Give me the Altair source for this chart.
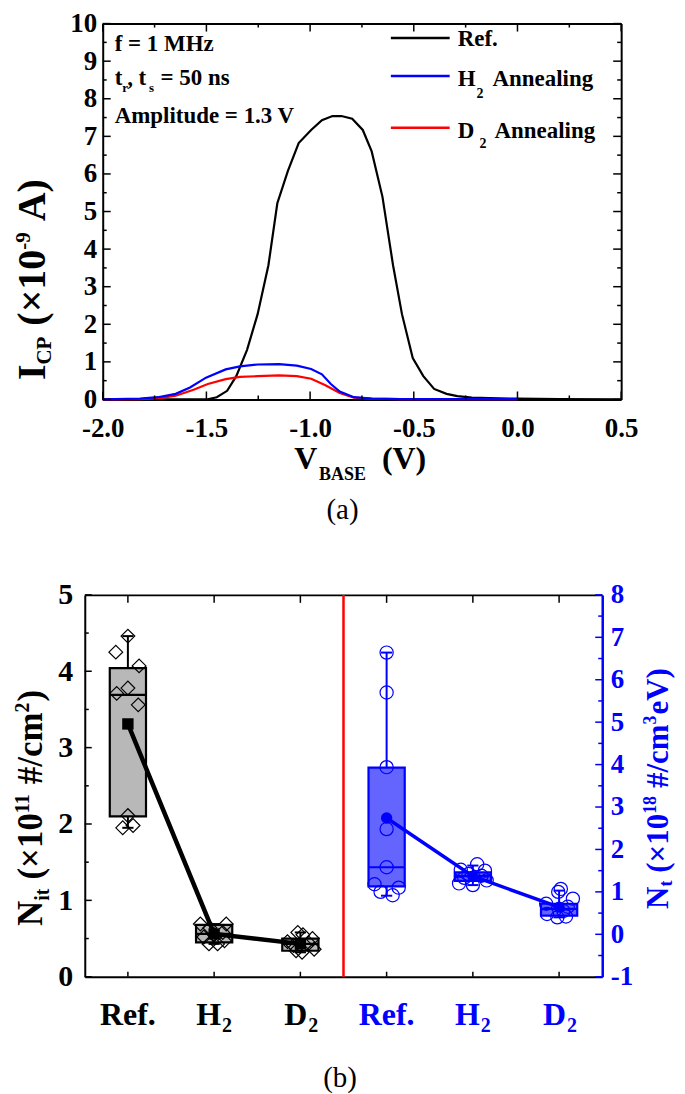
import altair as alt
import pandas as pd

FONT = "Liberation Serif"
BLUE = "#0000ff"
RED = "#ff0000"
BLACK = "#000000"

# ---------------- (a) charge-pumping current curves ----------------
ref_v = [-2.0, -1.8, -1.6, -1.50, -1.45, -1.40, -1.356, -1.304, -1.253, -1.201, -1.158,
         -1.107, -1.055, -0.995, -0.943, -0.892, -0.849, -0.797, -0.746, -0.703, -0.651,
         -0.600, -0.557, -0.505, -0.454, -0.402, -0.342, -0.29, -0.22, -0.136, 0.0, 0.2, 0.5]
ref_i = [0, 0, 0, 0.0, 0.06, 0.23, 0.62, 1.32, 2.27, 3.57, 5.22,
         6.08, 6.82, 7.17, 7.43, 7.54, 7.54, 7.47, 7.17, 6.60, 5.39,
         3.57, 2.27, 1.10, 0.62, 0.28, 0.15, 0.09, 0.05, 0.035, 0.02, 0.01, 0.0]
h2_v = [-2.0, -1.82, -1.734, -1.648, -1.579, -1.502, -1.407, -1.338, -1.253, -1.15,
        -1.064, -0.995, -0.943, -0.90, -0.857, -0.789, -0.703, -0.565, 0.0]
h2_i = [0, 0.02, 0.06, 0.15, 0.32, 0.58, 0.80, 0.88, 0.93, 0.94,
        0.90, 0.81, 0.67, 0.41, 0.21, 0.06, 0.02, 0.01, 0.01]
d2_v = [-2.0, -1.82, -1.717, -1.648, -1.562, -1.493, -1.407, -1.338, -1.253, -1.15,
        -1.064, -0.995, -0.926, -0.857, -0.789, -0.703, -0.565, 0.0]
d2_i = [0, 0.01, 0.04, 0.10, 0.26, 0.41, 0.54, 0.60, 0.62, 0.64,
        0.62, 0.55, 0.38, 0.17, 0.05, 0.02, 0.01, 0.01]
series = ["Ref.", "H2 Annealing", "D2 Annealing"]

a_x_major = [-2.0, -1.5, -1.0, -0.5, 0.0, 0.5]
a_x_minor = [-1.75, -1.25, -0.75, -0.25, 0.25]
a_y_major = [0, 1, 2, 3, 4, 5, 6, 7, 8, 9, 10]
a_y_minor = [0.5, 1.5, 2.5, 3.5, 4.5, 5.5, 6.5, 7.5, 8.5, 9.5]

# ---------------- (b) box plots ----------------
groups = ["Ref.", "H2", "D2"]
nit_q1 = [2.10, 0.45, 0.34]
nit_q3 = [4.04, 0.68, 0.50]
nit_med = [3.69, 0.56, 0.43]
nit_wlo = [1.95, 0.43, 0.32]
nit_whi = [4.46, 0.69, 0.58]
nit_mean = [3.31, 0.56, 0.43]
nit_pts = [[4.46, 4.25, 4.07, 3.78, 3.71, 3.56, 2.11, 1.95, 1.98],
           [0.69, 0.69, 0.64, 0.58, 0.55, 0.52, 0.47, 0.43, 0.43],
           [0.58, 0.55, 0.50, 0.46, 0.44, 0.41, 0.36, 0.34, 0.32]]
nit_jit = [[0.0, -0.14, 0.13, 0.0, -0.13, 0.12, 0.0, -0.06, 0.06],
           [-0.16, 0.14, -0.05, 0.10, 0.0, -0.12, 0.12, -0.06, 0.04],
           [-0.03, 0.03, 0.14, -0.15, 0.10, -0.08, 0.16, -0.05, 0.02]]
nt_q1 = [1.13, 1.26, 0.44]
nt_q3 = [3.93, 1.46, 0.72]
nt_med = [1.58, 1.37, 0.60]
nt_wlo = [0.91, 1.16, 0.40]
nt_whi = [6.64, 1.62, 1.03]
nt_mean = [2.74, 1.37, 0.64]
nt_pts = [[6.64, 5.70, 3.94, 2.48, 1.58, 1.18, 1.10, 1.00, 0.92],
          [1.65, 1.52, 1.50, 1.42, 1.38, 1.33, 1.27, 1.20, 1.16],
          [1.07, 1.00, 0.84, 0.72, 0.65, 0.55, 0.48, 0.42, 0.40]]
nt_jit = [[0.0, 0.0, 0.0, 0.0, 0.0, -0.14, 0.14, -0.07, 0.07],
          [0.05, -0.14, 0.14, -0.05, 0.10, -0.10, 0.16, -0.16, 0.0],
          [0.02, -0.01, 0.16, -0.15, 0.10, 0.05, -0.14, 0.08, -0.02]]
x_labels_main = ["Ref.", "H", "D", "Ref.", "H", "D"]
x_labels_sub = ["", "2", "2", "", "2", "2"]
divider_at = [3.0]
b_l_major = [0, 1, 2, 3, 4, 5]
b_l_minor = [0.5, 1.5, 2.5, 3.5, 4.5]
b_r_major = [-1, 0, 1, 2, 3, 4, 5, 6, 7, 8]
b_r_minor = [-0.5, 0.5, 1.5, 2.5, 3.5, 4.5, 5.5, 6.5, 7.5]

# ---------------- helpers ----------------
ONE = pd.DataFrame({"k": [0]})
ADV = {' ': .25, '(': .333, ')': .333, '×': .57, '-': .333, 'A': .722, 'B': .667, 'C': .722,
       'D': .722, 'E': .667, 'H': .778, 'I': .389, 'M': .944, 'N': .722, 'P': .611, 'R': .722,
       'S': .556, 'V': .722, 'a': .5, 'c': .444, 'd': .556, 'e': .444, 'f': .333, 'g': .5,
       'i': .278, 'l': .278, 'm': .833, 'n': .556, 'p': .556, 'r': .444, 's': .389, 't': .333,
       'u': .556, 'z': .444, '#': .5, '/': .278, '=': .57, ',': .25, '.': .25}


def tw(s, size):
    return sum(ADV.get(c, 0.5) for c in s) * size


def txt(s, x, y, size, color=BLACK, angle=None, weight="bold", align="left"):
    kw = dict(text=s, font=FONT, fontSize=size, fontWeight=weight, color=color,
              align=align, baseline="alphabetic")
    if angle is not None:
        kw["angle"] = angle
    return alt.Chart(ONE).mark_text(**kw).encode(x=alt.value(x), y=alt.value(y))


def vtitle(segs, x0, y0, color=BLACK):
    """Rotated (reading upward) title built from segments (text, size, baseline shift, gap)."""
    out, y = [], y0
    for s, size, dx, gap in segs:
        y -= gap
        out.append(txt(s, x0 + dx, y, size, color, angle=270))
        y -= tw(s, size)
    return out


def vt(vals, scale, y0, y1, axis=None, color=BLACK, w=1.5):
    return alt.Chart(pd.DataFrame({"v": vals})).mark_rule(color=color, strokeWidth=w).encode(
        x=alt.X("v:Q", scale=scale, axis=axis), y=alt.value(y0), y2=alt.value(y1))


def ht(vals, scale, x0, x1, axis=None, color=BLACK, w=1.5):
    return alt.Chart(pd.DataFrame({"v": vals})).mark_rule(color=color, strokeWidth=w).encode(
        y=alt.Y("v:Q", scale=scale, axis=axis), x=alt.value(x0), x2=alt.value(x1))


# ================= panel (a) =================
W1, H1 = 538, 377
XS1 = alt.Scale(domain=[-2.0, 0.5], range=[18, W1], nice=False, zero=False)
YS1 = alt.Scale(domain=[0, 10], nice=False, zero=False)

AX_A_BOTTOM = alt.Axis(orient="bottom", values=a_x_major, labelFontSize=27, labelPadding=16,
                       labelExpr="datum.value < 0 ? '-' + format(-datum.value, '.1f') : format(datum.value, '.1f')",
                       ticks=False, domain=True, domainColor=BLACK, domainWidth=2, grid=False,
                       title=None, labelFlush=False, labelOverlap=False)
AX_A_LEFT = alt.Axis(orient="left", offset=-18, values=a_y_major, format="d", labelFontSize=27,
                     labelPadding=6, ticks=False, domain=True, domainColor=BLACK, domainWidth=2,
                     grid=False, title=None, labelOverlap=False)
AX_A_TOP = alt.Axis(orient="top", labels=False, ticks=False, domain=True, domainColor=BLACK,
                    domainWidth=2, grid=False, title=None)
AX_A_RIGHT = alt.Axis(orient="right", labels=False, ticks=False, domain=True, domainColor=BLACK,
                      domainWidth=2, grid=False, title=None)

curve_df = pd.DataFrame({
    "V": ref_v + h2_v + d2_v,
    "I": ref_i + h2_i + d2_i,
    "s": [series[0]] * len(ref_v) + [series[1]] * len(h2_v) + [series[2]] * len(d2_v),
    "o": list(range(len(ref_v))) + list(range(len(h2_v))) + list(range(len(d2_v))),
})


def curve(name, color, axes=False):
    return alt.Chart(curve_df).transform_filter(alt.datum.s == name).mark_line(
        color=color, strokeWidth=2.2).encode(
        x=alt.X("V:Q", scale=XS1, axis=AX_A_BOTTOM if axes else None),
        y=alt.Y("I:Q", scale=YS1, axis=AX_A_LEFT if axes else None),
        order="o:Q")


top_layers = [
    curve(series[0], BLACK, axes=True),
    curve(series[2], RED),
    curve(series[1], BLUE),
    vt(a_x_major, XS1, H1, H1 - 8), vt(a_x_minor, XS1, H1, H1 - 4),
    vt(a_x_major, XS1, 0, 8, axis=AX_A_TOP), vt(a_x_minor, XS1, 0, 4),
    ht(a_y_major, YS1, 18, 26), ht(a_y_minor, YS1, 18, 22),
    ht(a_y_major, YS1, W1, W1 - 8, axis=AX_A_RIGHT), ht(a_y_minor, YS1, W1, W1 - 4),
]
# legend swatches
for yy, col in [(14.5, BLACK), (52.5, BLUE), (104.5, RED)]:
    top_layers.append(alt.Chart(ONE).mark_rule(color=col, strokeWidth=2.5).encode(
        x=alt.value(307), x2=alt.value(366), y=alt.value(yy)))
top_layers += [
    txt("Ref.", 374, 22.5, 23),
    txt("H", 374, 62.5, 23), txt("2", 393, 74.5, 14), txt("Annealing", 409, 62.5, 23),
    txt("D", 374, 114.5, 23), txt("2", 396, 124.5, 14), txt("Annealing", 411, 114.5, 23),
    # measurement conditions
    txt("f = 1 MHz", 30, 27.5, 23),
    txt("t", 30, 61.5, 23), txt("r", 37.5, 68.5, 13), txt(", t", 42.5, 61.5, 23),
    txt("s", 64.5, 68.5, 13), txt("= 50 ns", 76, 61.5, 23),
    txt("Amplitude = 1.3 V", 30, 99.5, 23),
    # x title
    txt("V", 210, 446.5, 32), txt("BASE", 235, 457.5, 18), txt("(V)", 298, 446.5, 32),
    # caption
    txt("(a)", 258.5, 496.5, 29, weight="normal", align="center"),
]
top_layers += vtitle([("I", 40, 0, 0), ("CP", 21, 6, 0), ("(×10", 40, 0, 11), ("-9", 21, -15, 0),
                      ("A)", 40, 0, 11)], -40, 357.5)
top = alt.layer(*top_layers).properties(width=W1, height=H1)

# ================= panel (b) =================
W2, H2 = 519, 383
XS2 = alt.Scale(domain=[0, 6], nice=False, zero=False)
YL = alt.Scale(domain=[0, 5], nice=False, zero=False)
YR = alt.Scale(domain=[-1, 8], nice=False, zero=False)

AX_B_BOTTOM = alt.Axis(orient="bottom", labels=False, ticks=False, domain=True, domainColor=BLACK,
                       domainWidth=2, grid=False, title=None)
AX_B_TOP = alt.Axis(orient="top", labels=False, ticks=False, domain=True, domainColor=BLACK,
                    domainWidth=2, grid=False, title=None)
AX_B_LEFT = alt.Axis(orient="left", values=b_l_major, format="d", labelFontSize=30, labelPadding=12,
                     ticks=False, domain=True, domainColor=BLACK, domainWidth=2, grid=False,
                     title=None, labelOverlap=False)
AX_B_RIGHT = alt.Axis(orient="right", values=b_r_major, labelFontSize=27, labelPadding=8,
                      labelExpr="datum.value < 0 ? '-' + format(-datum.value, 'd') : format(datum.value, 'd')",
                      labelColor=BLUE, ticks=False, domain=True, domainColor=BLUE, domainWidth=2.5,
                      grid=False, title=None, labelOverlap=False)


def box_df(first, q1, q3, med, wlo, whi, mean):
    return pd.DataFrame({"pos": [first + i for i in range(len(q1))], "q1": q1, "q3": q3,
                         "med": med, "wlo": wlo, "whi": whi, "mean": mean})


def pts_df(first, pts, jit):
    rows = []
    for i, (vals, js) in enumerate(zip(pts, jit)):
        for v, j in zip(vals, js):
            rows.append({"pos": first + i, "jit": j, "val": v})
    return pd.DataFrame(rows)


def box_layers(bdf, pdf, ys, yaxis, xaxis, color, fill, shape, psize, mshape, msize, lw):
    base = alt.Chart(bdf).transform_calculate(
        lo="datum.pos - 0.21", hi="datum.pos + 0.21", cl="datum.pos - 0.065", ch="datum.pos + 0.065")

    def X(f, ax=None):
        return alt.X(f, scale=XS2, axis=ax)

    def Y(f, ax=None):
        return alt.Y(f, scale=ys, axis=ax)

    return [
        base.mark_rule(color=color, strokeWidth=2).encode(x=X("pos:Q"), y=Y("q3:Q"), y2="whi:Q"),
        base.mark_rule(color=color, strokeWidth=2).encode(x=X("pos:Q"), y=Y("wlo:Q"), y2="q1:Q"),
        base.mark_rule(color=color, strokeWidth=2).encode(x=X("cl:Q"), x2="ch:Q", y=Y("whi:Q")),
        base.mark_rule(color=color, strokeWidth=2).encode(x=X("cl:Q"), x2="ch:Q", y=Y("wlo:Q")),
        base.mark_rect(fill=fill, stroke=color, strokeWidth=2.2).encode(
            x=X("lo:Q", xaxis), x2="hi:Q", y=Y("q1:Q", yaxis), y2="q3:Q"),
        base.mark_rule(color=color, strokeWidth=2.2).encode(x=X("lo:Q"), x2="hi:Q", y=Y("med:Q")),
        alt.Chart(pdf).transform_calculate(xp="datum.pos + datum.jit").mark_point(
            shape=shape, filled=False, color=color, strokeWidth=1.2, size=psize, opacity=1).encode(
            x=X("xp:Q"), y=Y("val:Q")),
        base.mark_line(color=color, strokeWidth=lw).encode(x=X("pos:Q"), y=Y("mean:Q")),
        base.mark_point(shape=mshape, filled=True, color=color, size=msize, opacity=1).encode(
            x=X("pos:Q"), y=Y("mean:Q")),
    ]


nit_box = box_df(0.5, nit_q1, nit_q3, nit_med, nit_wlo, nit_whi, nit_mean)
nt_box = box_df(3.5, nt_q1, nt_q3, nt_med, nt_wlo, nt_whi, nt_mean)
nit_p = pts_df(0.5, nit_pts, nit_jit)
nt_p = pts_df(3.5, nt_pts, nt_jit)
cat_pos = [0.5, 1.5, 2.5, 3.5, 4.5, 5.5]
lab_df = pd.DataFrame({"pos": cat_pos, "main": x_labels_main, "sub": x_labels_sub,
                       "col": [BLACK] * 3 + [BLUE] * 3})

b_layers = box_layers(nit_box, nit_p, YL, AX_B_LEFT, AX_B_BOTTOM, BLACK, "#b8b8b8",
                      "diamond", 190, "square", 130, 4.5)
b_layers += box_layers(nt_box, nt_p, YR, AX_B_RIGHT, None, BLUE, "#6464ff",
                       "circle", 175, "circle", 130, 3.5)
b_layers += [
    ht(b_l_major, YL, 0, 7), ht(b_l_minor, YL, 0, 4),
    ht(b_r_major, YR, W2, W2 - 7, color=BLUE), ht(b_r_minor, YR, W2, W2 - 4, color=BLUE),
    vt(cat_pos, XS2, 0, 8, axis=AX_B_TOP),
    vt(cat_pos, XS2, H2, H2 - 5),
    alt.Chart(pd.DataFrame({"v": divider_at})).mark_rule(color=RED, strokeWidth=2.5).encode(
        x=alt.X("v:Q", scale=XS2, axis=None), y=alt.value(0), y2=alt.value(H2)),
    alt.Chart(lab_df).transform_filter("datum.sub == ''").mark_text(
        font=FONT, fontSize=32, fontWeight="bold", align="center", baseline="alphabetic").encode(
        x=alt.X("pos:Q", scale=XS2, axis=None), y=alt.value(431), text="main:N",
        color=alt.Color("col:N", scale=None)),
    alt.Chart(lab_df).transform_filter("datum.sub != ''").mark_text(
        font=FONT, fontSize=32, fontWeight="bold", align="right", baseline="alphabetic", dx=7).encode(
        x=alt.X("pos:Q", scale=XS2, axis=None), y=alt.value(431), text="main:N",
        color=alt.Color("col:N", scale=None)),
    alt.Chart(lab_df).transform_filter("datum.sub != ''").mark_text(
        font=FONT, fontSize=20, fontWeight="bold", align="left", baseline="alphabetic", dx=8).encode(
        x=alt.X("pos:Q", scale=XS2, axis=None), y=alt.value(438), text="sub:N",
        color=alt.Color("col:N", scale=None)),
    txt("(b)", 256, 494, 29, weight="normal", align="center"),
]
b_layers += vtitle([("N", 35, 0, 0), ("it", 20, 7, 0), ("(×10", 35, 0, 9), ("11", 20, -13, 0),
                    ("#/cm", 35, 0, 9), ("2", 20, -13, 0), (")", 35, 0, 1)], -43, 332)
b_layers += vtitle([("N", 31, 0, 0), ("t", 18, 4, 0), ("(×10", 31, 0, 8), ("18", 18, -12, 0),
                    ("#/cm", 31, 0, 8), ("3", 18, -12, 0), ("eV)", 31, 0, 1)], 585, 315, color=BLUE)

bottom = alt.layer(*b_layers).resolve_scale(y="independent").properties(width=W2, height=H2)

chart = alt.vconcat(top, bottom, spacing=54).properties(
    padding={"left": 4, "top": -1, "right": 0, "bottom": 4}
).configure_view(stroke="transparent").configure_axis(
    labelFont=FONT, labelFontWeight="bold", labelColor=BLACK)

chart.save("out.html", embed_options={"renderer": "svg", "actions": False})
